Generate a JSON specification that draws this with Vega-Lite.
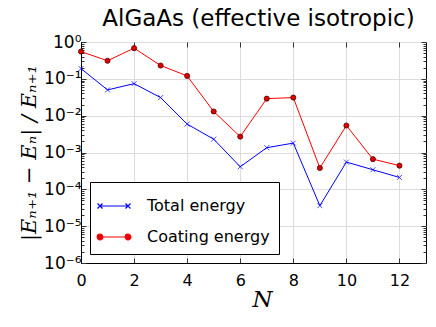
{
  "$schema": "https://vega.github.io/schema/vega-lite/v6.json",
  "autosize": "none",
  "width": 345,
  "height": 221,
  "padding": {"left": 81, "top": 42, "right": 10, "bottom": 64},
  "background": "white",
  "config": {
    "font": "DejaVu Sans",
    "view": {"stroke": "black", "strokeWidth": 1}
  },
  "title": {"text": "AlGaAs (effective isotropic)", "fontSize": 23, "fontWeight": "normal", "font": "DejaVu Sans", "color": "black", "offset": 2, "anchor": "middle", "dx": 5},
  "data": {"values": [
    {"N": 0, "series": "Total energy", "v": 0.19},
    {"N": 1, "series": "Total energy", "v": 0.05},
    {"N": 2, "series": "Total energy", "v": 0.074},
    {"N": 3, "series": "Total energy", "v": 0.031},
    {"N": 4, "series": "Total energy", "v": 0.0059},
    {"N": 5, "series": "Total energy", "v": 0.0023},
    {"N": 6, "series": "Total energy", "v": 0.00041},
    {"N": 7, "series": "Total energy", "v": 0.00135},
    {"N": 8, "series": "Total energy", "v": 0.0018},
    {"N": 9, "series": "Total energy", "v": 0.000036},
    {"N": 10, "series": "Total energy", "v": 0.00055},
    {"N": 11, "series": "Total energy", "v": 0.00034},
    {"N": 12, "series": "Total energy", "v": 0.00021},
    {"N": 0, "series": "Coating energy", "v": 0.55},
    {"N": 1, "series": "Coating energy", "v": 0.31},
    {"N": 2, "series": "Coating energy", "v": 0.68},
    {"N": 3, "series": "Coating energy", "v": 0.23},
    {"N": 4, "series": "Coating energy", "v": 0.12},
    {"N": 5, "series": "Coating energy", "v": 0.013},
    {"N": 6, "series": "Coating energy", "v": 0.0027},
    {"N": 7, "series": "Coating energy", "v": 0.029},
    {"N": 8, "series": "Coating energy", "v": 0.031},
    {"N": 9, "series": "Coating energy", "v": 0.00038},
    {"N": 10, "series": "Coating energy", "v": 0.0054},
    {"N": 11, "series": "Coating energy", "v": 0.00066},
    {"N": 12, "series": "Coating energy", "v": 0.00044}
  ]},
  "resolve": {"axis": {"x": "independent", "y": "independent"}},
  "layer": [
    {"mark": {"type": "line", "strokeWidth": 1},
     "encoding": {
       "x": {"field": "N", "type": "quantitative",
         "scale": {"domain": [0, 13], "nice": false, "zero": false},
         "axis": {"values": [0, 2, 4, 6, 8, 10, 12], "title": "N", "titleFont": "DejaVu Serif", "titleFontStyle": "italic", "titleFontWeight": "normal", "titleFontSize": 23, "titleColor": "black", "titlePadding": 0, "titleX": 181,
           "labelFontSize": 16, "labelColor": "black", "labelPadding": 14, "tickSize": -5, "tickColor": "#333", "domainColor": "black", "gridColor": "#dddddd", "labelFlush": false}},
       "y": {"field": "v", "type": "quantitative",
         "scale": {"type": "log", "domain": [0.000001, 1], "nice": false},
         "axis": {"values": [0.000001, 0.000002, 0.000003, 0.000004, 0.000005, 0.000006, 0.000007, 0.000008, 0.000009, 0.00001, 0.00002, 0.00003, 0.00004, 0.00005, 0.00006, 0.00007, 0.00008, 0.00009, 0.0001, 0.0002, 0.0003, 0.0004, 0.0005, 0.0006, 0.0007, 0.0008, 0.0009, 0.001, 0.002, 0.003, 0.004, 0.005, 0.006, 0.007, 0.008, 0.009, 0.01, 0.02, 0.03, 0.04, 0.05, 0.06, 0.07, 0.08, 0.09, 0.1, 0.2, 0.3, 0.4, 0.5, 0.6, 0.7, 0.8, 0.9, 1],
           "labelExpr": "abs(log(datum.value)/LN10 - round(log(datum.value)/LN10)) > 0.001 ? '' : datum.value >= 0.5 ? '10⁰' : datum.value >= 0.05 ? '10⁻¹' : datum.value >= 0.005 ? '10⁻²' : datum.value >= 0.0005 ? '10⁻³' : datum.value >= 0.00005 ? '10⁻⁴' : datum.value >= 0.000005 ? '10⁻⁵' : '10⁻⁶'",
           "gridOpacity": {"condition": {"test": "abs(log(datum.value)/LN10 - round(log(datum.value)/LN10)) < 0.001", "value": 1}, "value": 0},
           "tickSize": {"condition": {"test": "abs(log(datum.value)/LN10 - round(log(datum.value)/LN10)) < 0.001", "value": -5}, "value": -3},
           "title": "|Eₙ₊₁ − Eₙ| / Eₙ₊₁", "titleFont": "DejaVu Serif", "titleFontStyle": "italic", "titleFontWeight": "normal", "titleFontSize": 21, "titleColor": "black", "titlePadding": 4,
           "labelFontSize": 17, "labelColor": "black", "labelPadding": 5, "tickColor": "#333", "domainColor": "black", "gridColor": "#dddddd", "labelFlush": false, "labelOverlap": false}},
       "color": {"field": "series", "type": "nominal",
       "scale": {"domain": ["Total energy", "Coating energy"], "range": ["#0000ff", "#ff0000"]},
       "legend": {"title": null, "orient": "bottom-left", "offset": 9, "symbolSize": 784, "symbolStrokeWidth": 1.2, "labelFontSize": 16, "labelColor": "black", "strokeColor": "black", "fillColor": "white", "padding": 9, "rowPadding": 8, "labelOffset": 18,
         "encode": {"symbols": {"update": {
           "shape": {"signal": "datum.value === 'Total energy' ? 'M-1,0H1M-1.18,-0.18L-0.82,0.18M-1.18,0.18L-0.82,-0.18M0.82,-0.18L1.18,0.18M0.82,0.18L1.18,-0.18' : 'M-1,0H1M-0.8,0a0.2,0.2 0 1,0 -0.4,0a0.2,0.2 0 1,0 0.4,0M1.2,0a0.2,0.2 0 1,0 -0.4,0a0.2,0.2 0 1,0 0.4,0'"},
           "fill": {"signal": "datum.value === 'Total energy' ? 'transparent' : '#dd0000'"},
           "fillOpacity": {"value": 1}
         }}}}}}},
    {"transform": [{"filter": "datum.series === 'Total energy'"}],
     "mark": {"type": "point", "shape": "M-1,-1L1,1M-1,1L1,-1", "size": 25, "stroke": "#0000ff", "strokeWidth": 1, "filled": false},
     "encoding": {
       "x": {"field": "N", "type": "quantitative", "axis": null},
       "y": {"field": "v", "type": "quantitative",
         "axis": {"orient": "right", "title": null, "labels": false, "grid": false, "domain": false,
           "values": [0.000001, 0.000002, 0.000003, 0.000004, 0.000005, 0.000006, 0.000007, 0.000008, 0.000009, 0.00001, 0.00002, 0.00003, 0.00004, 0.00005, 0.00006, 0.00007, 0.00008, 0.00009, 0.0001, 0.0002, 0.0003, 0.0004, 0.0005, 0.0006, 0.0007, 0.0008, 0.0009, 0.001, 0.002, 0.003, 0.004, 0.005, 0.006, 0.007, 0.008, 0.009, 0.01, 0.02, 0.03, 0.04, 0.05, 0.06, 0.07, 0.08, 0.09, 0.1, 0.2, 0.3, 0.4, 0.5, 0.6, 0.7, 0.8, 0.9, 1],
           "tickSize": {"condition": {"test": "abs(log(datum.value)/LN10 - round(log(datum.value)/LN10)) < 0.001", "value": -5}, "value": -3},
           "tickColor": "#333"}}}},
    {"transform": [{"filter": "datum.series === 'Coating energy'"}],
     "mark": {"type": "point", "shape": "circle", "size": 26, "fill": "#dd0000", "stroke": "#550000", "strokeWidth": 0.8, "filled": true, "opacity": 1},
     "encoding": {
       "x": {"field": "N", "type": "quantitative",
         "axis": {"orient": "top", "title": null, "labels": false, "grid": false, "domain": false, "values": [0, 2, 4, 6, 8, 10, 12], "tickSize": -5, "tickColor": "#333"}},
       "y": {"field": "v", "type": "quantitative", "axis": null}}}
  ]
}
